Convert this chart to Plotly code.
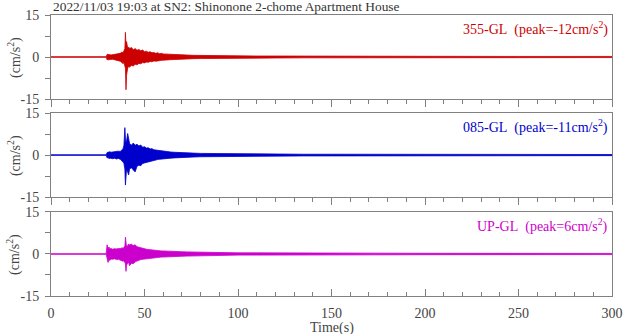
import plotly.graph_objects as go

# ---- data (envelope of the acceleration traces) ----
t = [0, 29.5, 30, 30.5, 31, 31.5, 32, 33, 34, 35, 36, 37, 38, 38.5, 39, 39.5, 39.8, 40.1, 40.4, 41,
     41.5, 42, 43, 44, 45, 46, 47, 48, 49, 50, 51, 52, 53, 54, 55, 56, 57, 58, 59, 60,
     62, 64, 66, 68, 70, 73, 76, 80, 85, 90, 95, 100, 110, 120, 135, 150, 175, 200, 250, 300]

ns_up = [0.1, 0.1, 0.9, 1.0, 0.8, 0.9, 0.7, 0.8, 0.9, 1.0, 1.1, 1.3, 1.8, 1.5, 2.2, 3.0, 8.8, 4.0, 5.5, 3.2,
         3.6, 3.0, 3.4, 2.6, 3.0, 2.4, 2.7, 2.2, 2.5, 1.9, 2.1, 1.7, 1.9, 1.5, 1.6, 1.3, 1.5, 1.2, 1.3, 1.1,
         1.0, 1.0, 0.9, 0.8, 0.75, 0.7, 0.6, 0.55, 0.5, 0.45, 0.45, 0.4, 0.35, 0.35, 0.3, 0.3, 0.25, 0.25, 0.2, 0.2]
ns_lo = [-0.1, -0.1, -1.0, -0.9, -1.1, -0.8, -0.9, -0.8, -1.0, -1.1, -1.2, -1.5, -2.0, -2.4, -2.0, -3.0, -4.0, -11.7, -6.5, -4.0,
         -3.4, -3.6, -3.0, -3.2, -2.6, -2.8, -2.3, -2.4, -2.0, -2.1, -1.8, -1.9, -1.6, -1.7, -1.4, -1.5, -1.3, -1.3, -1.2, -1.1,
         -1.0, -0.95, -0.9, -0.8, -0.75, -0.7, -0.6, -0.55, -0.5, -0.45, -0.45, -0.4, -0.35, -0.35, -0.3, -0.3, -0.25, -0.25, -0.2, -0.2]

ew_up = [0.1, 0.1, 0.9, 1.1, 1.0, 1.2, 1.0, 1.1, 1.3, 1.2, 1.4, 1.3, 1.8, 2.2, 3.5, 9.8, 6.0, 4.5, 5.0, 7.7,
         5.0, 4.2, 3.5, 4.3, 3.5, 3.9, 3.2, 3.6, 2.8, 3.0, 2.5, 2.6, 2.2, 2.3, 1.9, 1.8, 1.6, 1.5, 1.4, 1.3,
         1.2, 1.1, 1.0, 0.9, 0.85, 0.8, 0.7, 0.6, 0.55, 0.5, 0.45, 0.4, 0.4, 0.35, 0.3, 0.3, 0.3, 0.25, 0.25, 0.2]
ew_lo = [-0.1, -0.1, -1.0, -0.9, -1.2, -1.0, -1.1, -1.3, -1.1, -1.4, -1.2, -1.5, -2.0, -2.5, -3.0, -5.0, -10.7, -8.0, -5.0, -6.0,
         -7.1, -5.0, -4.5, -5.3, -6.0, -4.0, -3.6, -3.8, -3.0, -2.8, -2.6, -2.4, -2.2, -2.1, -1.9, -1.8, -1.6, -1.5, -1.4, -1.3,
         -1.2, -1.1, -1.0, -0.9, -0.85, -0.8, -0.7, -0.6, -0.55, -0.5, -0.45, -0.4, -0.4, -0.35, -0.3, -0.3, -0.3, -0.25, -0.25, -0.2]

ud_up = [0.1, 0.1, 3.3, 2.0, 2.5, 1.8, 2.0, 1.7, 1.9, 1.8, 2.0, 1.9, 2.2, 2.0, 2.4, 2.8, 6.0, 3.0, 2.5, 3.0,
         3.6, 3.2, 3.5, 3.0, 3.3, 2.6, 2.4, 2.1, 1.9, 1.8, 1.7, 1.6, 1.5, 1.4, 1.3, 1.3, 1.2, 1.2, 1.1, 1.1,
         1.0, 0.95, 0.9, 0.85, 0.8, 0.75, 0.7, 0.6, 0.55, 0.5, 0.45, 0.4, 0.4, 0.35, 0.3, 0.3, 0.3, 0.25, 0.25, 0.2]
ud_lo = [-0.1, -0.1, -1.5, -3.0, -2.0, -2.3, -1.8, -1.9, -1.7, -2.0, -1.9, -2.1, -2.3, -2.6, -2.4, -3.0, -3.5, -6.2, -4.0, -3.2,
         -3.0, -4.2, -3.3, -3.5, -2.8, -2.5, -2.2, -2.0, -1.9, -1.8, -1.7, -1.6, -1.5, -1.4, -1.3, -1.3, -1.2, -1.2, -1.1, -1.1,
         -1.0, -0.95, -0.9, -0.85, -0.8, -0.75, -0.7, -0.6, -0.55, -0.5, -0.45, -0.4, -0.4, -0.35, -0.3, -0.3, -0.3, -0.25, -0.25, -0.2]

labels = ["355-GL&nbsp; (peak=-12cm/s<sup>2</sup>)",
          "085-GL&nbsp; (peak=-11cm/s<sup>2</sup>)",
          "UP-GL&nbsp; (peak=6cm/s<sup>2</sup>)"]
colors = ["#cc0000", "#0000cc", "#cc00cc"]
title_text = "2022/11/03 19:03 at SN2: Shinonone 2-chome Apartment House"
y_ticks = [-15, -7.5, 0, 7.5, 15]
y_ticktext = ["-15", "", "0", "", "15"]

uppers = [ns_up, ew_up, ud_up]
lowers = [ns_lo, ew_lo, ud_lo]
for a, b in zip(uppers, lowers):
    assert len(a) == len(t) and len(b) == len(t)

FONT = "Liberation Serif"
GRAY = "#808080"
TXT = "#444444"

domains = [[0.701, 1.0], [0.352, 0.651], [0.0, 0.299]]

fig = go.Figure()
for i in range(3):
    xa = "x" if i == 0 else f"x{i+1}"
    ya = "y" if i == 0 else f"y{i+1}"
    fig.add_trace(go.Scatter(x=t, y=lowers[i], xaxis=xa, yaxis=ya, mode="lines",
                             line=dict(color=colors[i], width=0.8), hoverinfo="skip",
                             showlegend=False))
    fig.add_trace(go.Scatter(x=t, y=uppers[i], xaxis=xa, yaxis=ya, mode="lines",
                             line=dict(color=colors[i], width=0.8), fill="tonexty",
                             fillcolor=colors[i], hoverinfo="skip", showlegend=False))

layout = dict(
    width=624, height=334,
    margin=dict(l=51, r=12, t=15, b=38, autoexpand=False),
    paper_bgcolor="white", plot_bgcolor="white",
    font=dict(family=FONT, size=14, color=TXT),
    showlegend=False,
)
for i in range(3):
    xk = "xaxis" if i == 0 else f"xaxis{i+1}"
    yk = "yaxis" if i == 0 else f"yaxis{i+1}"
    ya = "y" if i == 0 else f"y{i+1}"
    xa = "x" if i == 0 else f"x{i+1}"
    bottom = (i == 2)
    layout[xk] = dict(
        domain=[0, 1], anchor=ya, range=[0, 300], showgrid=False, zeroline=False,
        showline=True, linecolor=GRAY, linewidth=1, mirror=True, automargin=False,
        tickmode="linear", tick0=0, dtick=50,
        ticks="inside" if bottom else "outside", ticklen=7, tickcolor=GRAY,
        minor=dict(dtick=10, ticklen=4, ticks="inside" if bottom else "outside", tickcolor=GRAY),
        showticklabels=bottom, ticklabelstandoff=4,
        tickfont=dict(family=FONT, size=14, color=TXT),
    )
    layout[yk] = dict(
        domain=domains[i], anchor=xa, range=[-15, 15], showgrid=False, zeroline=False,
        showline=True, linecolor=GRAY, linewidth=1, mirror=True, automargin=False,
        tickmode="array", tickvals=y_ticks, ticktext=y_ticktext,
        ticks="outside", ticklen=5, tickcolor=GRAY, ticklabelstandoff=3,
        tickfont=dict(family=FONT, size=14, color=TXT),
    )
fig.update_layout(**layout)

annots = []
for i in range(3):
    annots.append(dict(text=labels[i], xref="paper", yref="paper", x=0.997, y=domains[i][1] - 0.006,
                       xanchor="right", yanchor="top", showarrow=False,
                       font=dict(family=FONT, size=14, color=colors[i])))
    annots.append(dict(text="(cm/s<sup>2</sup>)", xref="paper", yref="paper", x=-0.066,
                       y=(domains[i][0] + domains[i][1]) / 2, xanchor="center", yanchor="middle",
                       textangle=-90, showarrow=False,
                       font=dict(family=FONT, size=14, color=TXT)))
annots.append(dict(text="Time(s)", xref="paper", yref="paper", x=0.5, y=0.0, xanchor="center",
                   yanchor="top", yshift=-22, showarrow=False,
                   font=dict(family=FONT, size=14, color=TXT)))
annots.append(dict(text=title_text, xref="paper", yref="paper", x=0.0, y=1.0, xanchor="left",
                   yanchor="bottom", yshift=-1, showarrow=False,
                   font=dict(family=FONT, size=13.4, color="#333333")))
fig.update_layout(annotations=annots)

fig.write_html("out.html")
